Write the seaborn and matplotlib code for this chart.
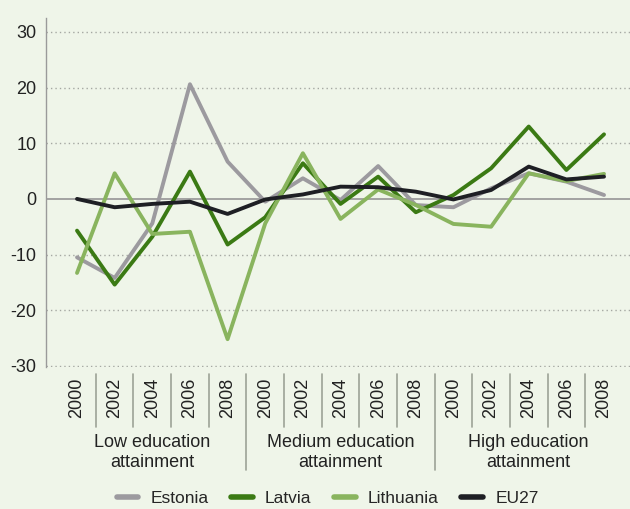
import matplotlib
matplotlib.use("Agg")
import matplotlib.pyplot as plt
import matplotlib.transforms as mtransforms
import pandas as pd
import seaborn as sns

# --- data ---
groups = ["Low education\nattainment", "Medium education\nattainment", "High education\nattainment"]
years = ["2000", "2002", "2004", "2006", "2008"]
countries = ["Estonia", "Latvia", "Lithuania", "EU27"]

estonia = [-10.5, -14.2, -4.4, 20.6, 6.7, -0.5, 3.7, -0.2, 5.9, -1.1, -1.5, 1.9, 4.6, 3.1, 0.7]
latvia = [-5.7, -15.4, -6.8, 4.9, -8.2, -3.3, 6.4, -0.9, 4.0, -2.4, 0.7, 5.5, 13.0, 5.2, 11.6]
lithuania = [-13.3, 4.6, -6.3, -5.9, -25.2, -4.4, 8.2, -3.6, 1.7, -1.1, -4.5, -5.0, 4.6, 3.2, 4.5]
eu27 = [0.0, -1.5, -0.9, -0.5, -2.7, -0.1, 0.8, 2.2, 2.1, 1.3, -0.1, 1.6, 5.8, 3.5, 4.0]

colors = {"Estonia": "#9c9a9f", "Latvia": "#3b7a14", "Lithuania": "#89b45e", "EU27": "#1e1f24"}
BG = "#eff5e9"

labels = [y for _ in groups for y in years]
rows = []
for name, vals in zip(countries, [estonia, latvia, lithuania, eu27]):
    for i, v in enumerate(vals):
        rows.append({"pos": i, "value": v, "country": name})
df = pd.DataFrame(rows)

sns.set_style("white")
plt.rcParams["font.family"] = ["Liberation Sans", "DejaVu Sans"]
plt.rcParams["font.size"] = 13

fig = plt.figure(figsize=(6.3, 5.09), dpi=100, facecolor=BG)
ax = fig.add_axes([46 / 630, 1 - 367 / 509, 1 - 46 / 630, (367 - 18) / 509])
ax.set_facecolor(BG)

# grid and zero line first
for yv in [-30, -20, -10, 10, 20, 30]:
    ax.axhline(yv, color="#a5a8a2", lw=1, ls=(0, (1, 2.2)), zorder=0)
ax.axhline(0, color="#9c9c9c", lw=1.3, zorder=1)

sns.lineplot(data=df, x="pos", y="value", hue="country", hue_order=countries,
             palette=colors, linewidth=2.8, ax=ax, zorder=3)

ax.set_xlim(-0.824, 14.69)
ax.set_ylim(-30.2, 32.5)
ax.set_yticks([-30, -20, -10, 0, 10, 20, 30])
ax.set_yticklabels(["-30", "-20", "-10", "0", "10", "20", "30"], color="#222222")
ax.set_xticks(range(len(labels)))
ax.set_xticklabels(labels, rotation=90, va="top", color="#222222")
ax.tick_params(axis="x", length=0, pad=8)
ax.tick_params(axis="y", length=0, pad=7)
ax.set_xlabel("")
ax.set_ylabel("")
for side in ["top", "right", "bottom"]:
    ax.spines[side].set_visible(False)
ax.spines["left"].set_color("#9a9a9a")
ax.spines["left"].set_linewidth(1)

# category separators below the axis
trans = mtransforms.blended_transform_factory(ax.transData, ax.transAxes)
n = len(labels)
for i in range(n - 1):
    xs = i + 0.5
    major = (i + 1) % len(years) == 0
    bottom = -0.296 if major else -0.172
    ax.plot([xs, xs], [-0.02, bottom], transform=trans, color="#9da397",
            lw=1.2, clip_on=False)

for g, name in enumerate(groups):
    center = g * len(years) + (len(years) - 1) / 2
    ax.text(center, -0.245, name, transform=trans, ha="center", va="center",
            linespacing=1.27, color="#222222", fontsize=13)

sns.move_legend(ax, "lower center", bbox_to_anchor=(0.52, -0.012), bbox_transform=fig.transFigure,
                ncol=4, frameon=False, title=None, fontsize=12.5, handlelength=1.25,
                columnspacing=1.3, handletextpad=0.7, borderaxespad=0.1)
for line in ax.get_legend().get_lines():
    line.set_linewidth(4)

fig.savefig("out.png", dpi=100, facecolor=BG)
